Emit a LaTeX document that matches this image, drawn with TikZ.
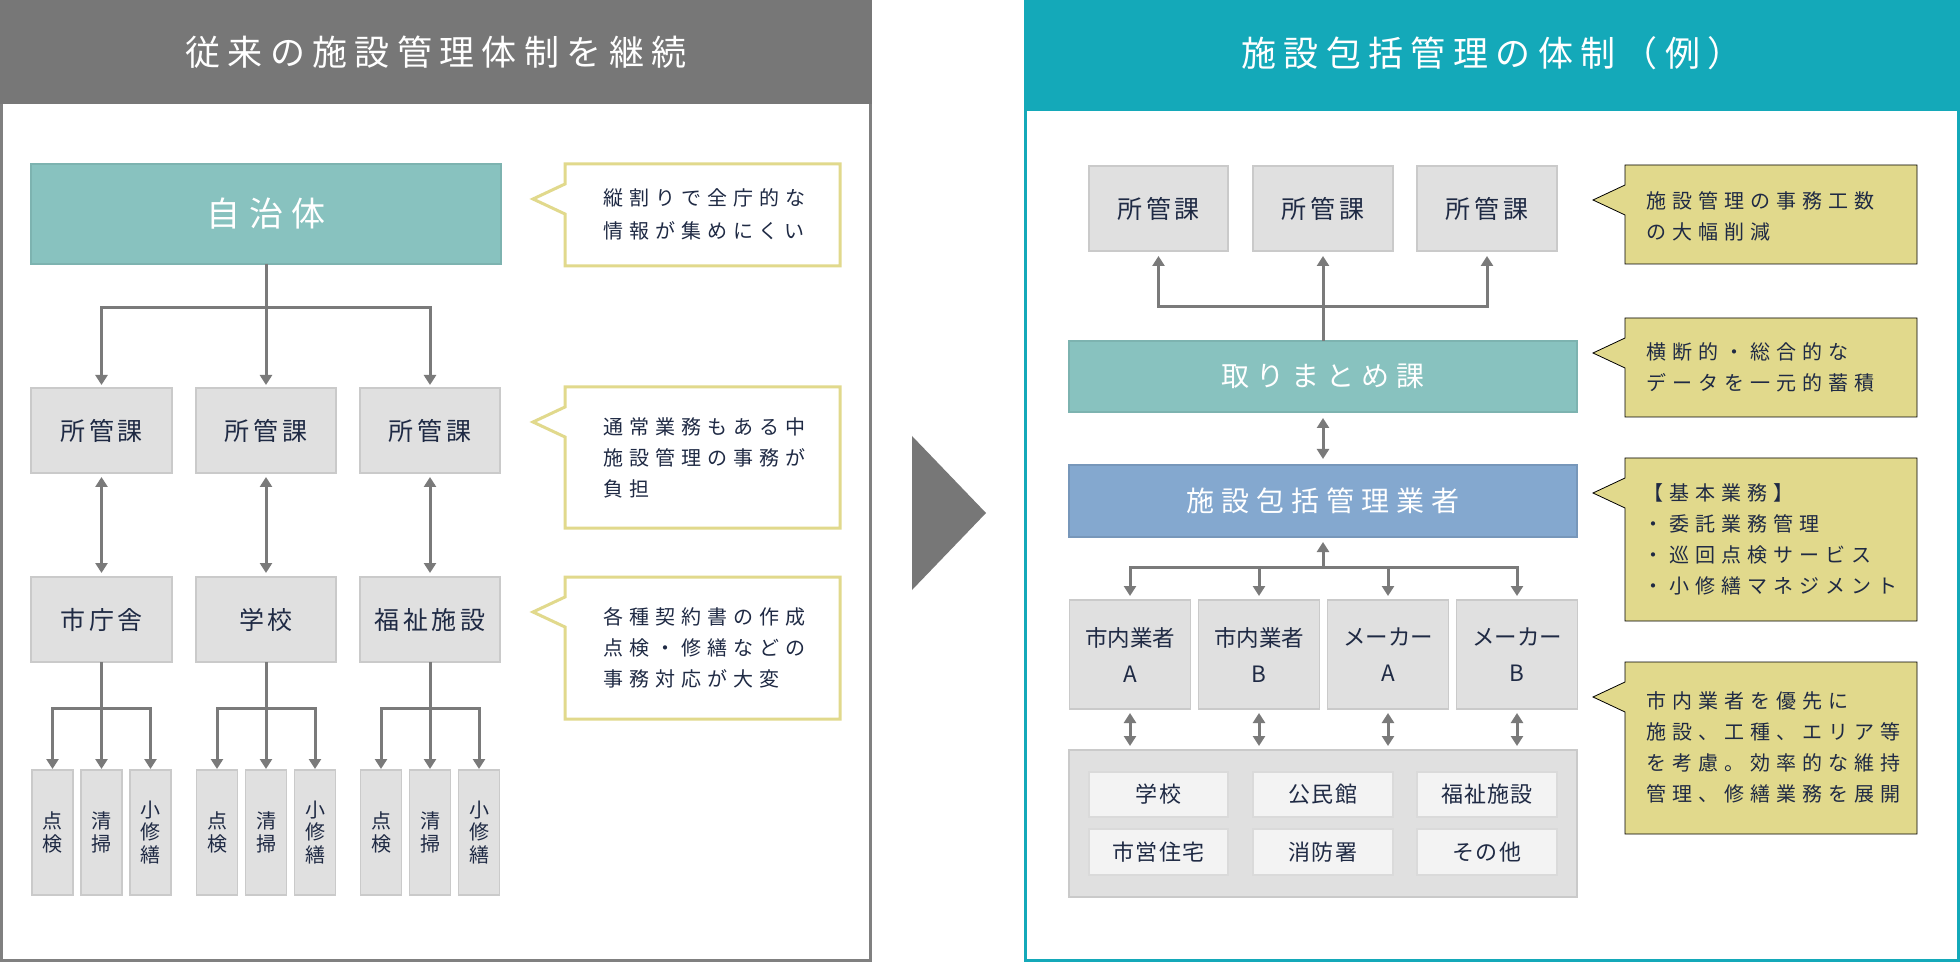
\documentclass[tikz,border=0pt]{standalone}
\usepackage{fontspec}
\usetikzlibrary{arrows.meta}
\newfontfamily\jp{Noto Sans CJK JP}
\newfontfamily\jpTitle[LetterSpace=21]{Noto Sans CJK JP}
\newfontfamily\jpBig[LetterSpace=25]{Noto Sans CJK JP}
\newfontfamily\jpBox[LetterSpace=15]{Noto Sans CJK JP}
\newfontfamily\jpSmall[LetterSpace=6]{Noto Sans CJK JP}
\newfontfamily\jpNote[LetterSpace=30]{Noto Sans CJK JP}
\definecolor{hdrgray}{HTML}{777777}
\definecolor{panelgray}{HTML}{808080}
\definecolor{hdrteal}{HTML}{14A9B9}
\definecolor{tealbox}{HTML}{88C2BF}
\definecolor{tealline}{HTML}{7DB3B0}
\definecolor{bluebox}{HTML}{84A8CF}
\definecolor{boxgray}{HTML}{E0E0E0}
\definecolor{boxline}{HTML}{CACACA}
\definecolor{innerbox}{HTML}{F3F3F3}
\definecolor{notecol}{HTML}{E1D98C}
\definecolor{navy}{HTML}{1F2A44}
\definecolor{conn}{HTML}{7A7A7A}
% box from (x1,y1) to (x2,y2) in pixel units
\newcommand\bx[7]{\node[#6, minimum width={((#4)-(#2))*0.5pt}, minimum height={((#5)-(#3))*0.5pt}] (#1) at ({((#2)+(#4))/2},{((#3)+(#5))/2}) {#7};}
\newcommand\callout[5]{\draw[#1] (#2,#3) -- (#4,#3) -- (#4,#5) -- (#2,#5) -- (#2,#3+50) -- (#2-32,#3+35) -- (#2,#3+20) -- cycle;}
\begin{document}
\begin{tikzpicture}[x=0.5pt,y=-0.5pt,
  every node/.style={inner sep=0pt, outer sep=0pt, text=navy},
  graybox/.style={draw=boxline, fill=boxgray, line width=0.6pt},
  lightbox/.style={draw=boxline!70, fill=innerbox, line width=0.6pt},
  tealnode/.style={draw=tealline, fill=tealbox, line width=0.6pt, text=white},
  bluenode/.style={draw=bluebox!90!black, fill=bluebox, line width=0.6pt, text=white},
  titletext/.style={text=white, font=\jpTitle\fontsize{17.5pt}{20pt}\selectfont},
  bigtext/.style={font=\jpBig\fontsize{17pt}{20pt}\selectfont},
  midtext/.style={font=\jpBig\fontsize{14pt}{17pt}\selectfont},
  boxtext/.style={font=\jpBox\fontsize{12.5pt}{15pt}\selectfont},
  vtext/.style={font=\jp\fontsize{10pt}{11.25pt}\selectfont, align=center},
  vendtext/.style={font=\jp\fontsize{11.25pt}{18pt}\selectfont, align=center},
  facitext/.style={font=\jpSmall\fontsize{11pt}{13pt}\selectfont},
  notetext/.style={font=\jpNote\fontsize{10pt}{15.5pt}\selectfont, align=left, anchor=west},
  hollownote/.style={draw=notecol, fill=white, line width=1.5pt},
  fillednote/.style={fill=notecol},
  line/.style={draw=conn, line width=1.5pt},
  arr/.style={draw=conn, line width=1.5pt, -{Triangle[length=5pt,width=6pt]}},
  darr/.style={draw=conn, line width=1.5pt, {Triangle[length=5pt,width=6pt]}-{Triangle[length=5pt,width=6pt]}},
]
\useasboundingbox (0,0) rectangle (1960,962);
\fill[white] (0,0) rectangle (1960,962);

% ---------------- left panel ----------------
\fill[hdrgray] (0,0) rectangle (872,104);
\draw[panelgray, line width=1.5pt] (1.5,104) -- (1.5,960.5) -- (870.5,960.5) -- (870.5,104);
\node[titletext] (ltitle) at (436,52) {従来の施設管理体制を継続};

\bx{jichi}{31}{164}{501}{264}{tealnode, bigtext}{自治体}
\bx{k1}{31}{388}{172}{473}{graybox, boxtext}{所管課}
\bx{k2}{196}{388}{336}{473}{graybox, boxtext}{所管課}
\bx{k3}{360}{388}{500}{473}{graybox, boxtext}{所管課}
\bx{f1}{31}{577}{172}{662}{graybox, boxtext}{市庁舎}
\bx{f2}{196}{577}{336}{662}{graybox, boxtext}{学校}
\bx{f3}{360}{577}{500}{662}{graybox, boxtext}{福祉施設}

\foreach \g/\c in {1/101.5, 2/266, 3/430} {
  \bx{s\g a}{\c-69.5}{770}{\c-28.5}{895}{graybox, vtext}{点\\検}
  \bx{s\g b}{\c-20.5}{770}{\c+20.5}{895}{graybox, vtext}{清\\掃}
  \bx{s\g c}{\c+28.5}{770}{\c+69.5}{895}{graybox, vtext}{小\\修\\繕}
}

% connectors left
\coordinate (lb) at (266,308);
\draw[line] (jichi.south) -- (lb);
\draw[arr, shorten >=1.5pt] (lb) -| (k1.north);
\draw[arr, shorten >=1.5pt] (lb) -- (k2.north);
\draw[arr, shorten >=1.5pt] (lb) -| (k3.north);
\foreach \i in {1,2,3} {
  \draw[darr, shorten <=2pt, shorten >=2pt] (k\i.south) -- (f\i.north);
}
\foreach \i in {1,2,3} {
  \path (f\i.south) ++(0,46) coordinate (fb\i);
  \draw[line] (f\i.south) -- (fb\i);
  \draw[arr, shorten >=0.5pt] (fb\i) -| (s\i a.north);
  \draw[arr, shorten >=0.5pt] (fb\i) -- (s\i b.north);
  \draw[arr, shorten >=0.5pt] (fb\i) -| (s\i c.north);
}

% callouts left
\callout{hollownote}{565}{164}{840}{266}
\callout{hollownote}{565}{387}{840}{528}
\callout{hollownote}{565}{577}{840}{719}
\node[notetext, font=\jpNote\fontsize{10pt}{16.5pt}\selectfont] (n1) at (603,214) {縦割りで全庁的な\\情報が集めにくい};
\node[notetext] (n2) at (603,457.5) {通常業務もある中\\施設管理の事務が\\負担};
\node[notetext] (n3) at (603,648) {各種契約書の作成\\点検・修繕などの\\事務対応が大変};

% big arrow
\fill[hdrgray] (912,436) -- (986,513) -- (912,590) -- cycle;

% ---------------- right panel ----------------
\fill[hdrteal] (1024,0) rectangle (1960,111);
\draw[hdrteal, line width=1.5pt] (1025.5,111) -- (1025.5,960.5) -- (1958.5,960.5) -- (1958.5,111);
\node[titletext] (rtitle) at (1492,53) {施設包括管理の体制（例）};

\bx{rk1}{1089}{166}{1228}{251}{graybox, boxtext}{所管課}
\bx{rk2}{1253}{166}{1393}{251}{graybox, boxtext}{所管課}
\bx{rk3}{1417}{166}{1557}{251}{graybox, boxtext}{所管課}
\bx{tori}{1069}{341}{1577}{412}{tealnode, midtext}{取りまとめ課}
\bx{gyo}{1069}{465}{1577}{537}{bluenode, midtext}{施設包括管理業者}
\bx{v1}{1069.5}{600}{1190.5}{709}{graybox, vendtext}{市内業者\\A}
\bx{v2}{1198.5}{600}{1319.5}{709}{graybox, vendtext}{市内業者\\B}
\bx{v3}{1327.5}{600}{1448.5}{709}{graybox, vendtext}{メーカー\\A}
\bx{v4}{1456.5}{600}{1577.5}{709}{graybox, vendtext}{メーカー\\B}
\bx{cont}{1069}{750}{1577}{897}{graybox}{}
\bx{p1}{1089}{772}{1228}{817}{lightbox, facitext}{学校}
\bx{p2}{1253}{772}{1393}{817}{lightbox, facitext}{公民館}
\bx{p3}{1417}{772}{1557}{817}{lightbox, facitext}{福祉施設}
\bx{p4}{1089}{829}{1228}{875}{lightbox, facitext}{市営住宅}
\bx{p5}{1253}{829}{1393}{875}{lightbox, facitext}{消防署}
\bx{p6}{1417}{829}{1557}{875}{lightbox, facitext}{その他}

% connectors right
\coordinate (rb) at (1323,307);
\draw[line] (tori.north) -- (rb);
\draw[arr, shorten >=2.5pt] (rb) -| (rk1.south);
\draw[arr, shorten >=2.5pt] (rb) -- (rk2.south);
\draw[arr, shorten >=2.5pt] (rb) -| (rk3.south);
\draw[darr, shorten <=3pt, shorten >=3pt] (tori.south) -- (gyo.north);
\coordinate (gb) at (1323,567);
\draw[arr, shorten >=2.5pt] (gb) -- (gyo.south);
\foreach \i in {1,2,3,4} {
  \draw[arr, shorten >=2pt] (gb) -| (v\i.north);
  \draw[darr, shorten <=2pt, shorten >=2pt] (v\i.south) -- (v\i.south |- cont.north);
}

% callouts right
\callout{fillednote}{1625}{165}{1917}{264}
\callout{fillednote}{1625}{318}{1917}{417}
\callout{fillednote}{1625}{458}{1917}{621}
\callout{fillednote}{1625}{662}{1917}{834}
\node[notetext] (n4) at (1646,216) {施設管理の事務工数\\の大幅削減};
\node[notetext] (n5) at (1646,367) {横断的・総合的な\\データを一元的蓄積};
\node[notetext] (n6) at (1643,539) {【基本業務】\\・委託業務管理\\・巡回点検サービス\\・小修繕マネジメント};
\node[notetext] (n7) at (1646,747) {市内業者を優先に\\施設、工種、エリア等\\を考慮。効率的な維持\\管理、修繕業務を展開};
\end{tikzpicture}
\end{document}
